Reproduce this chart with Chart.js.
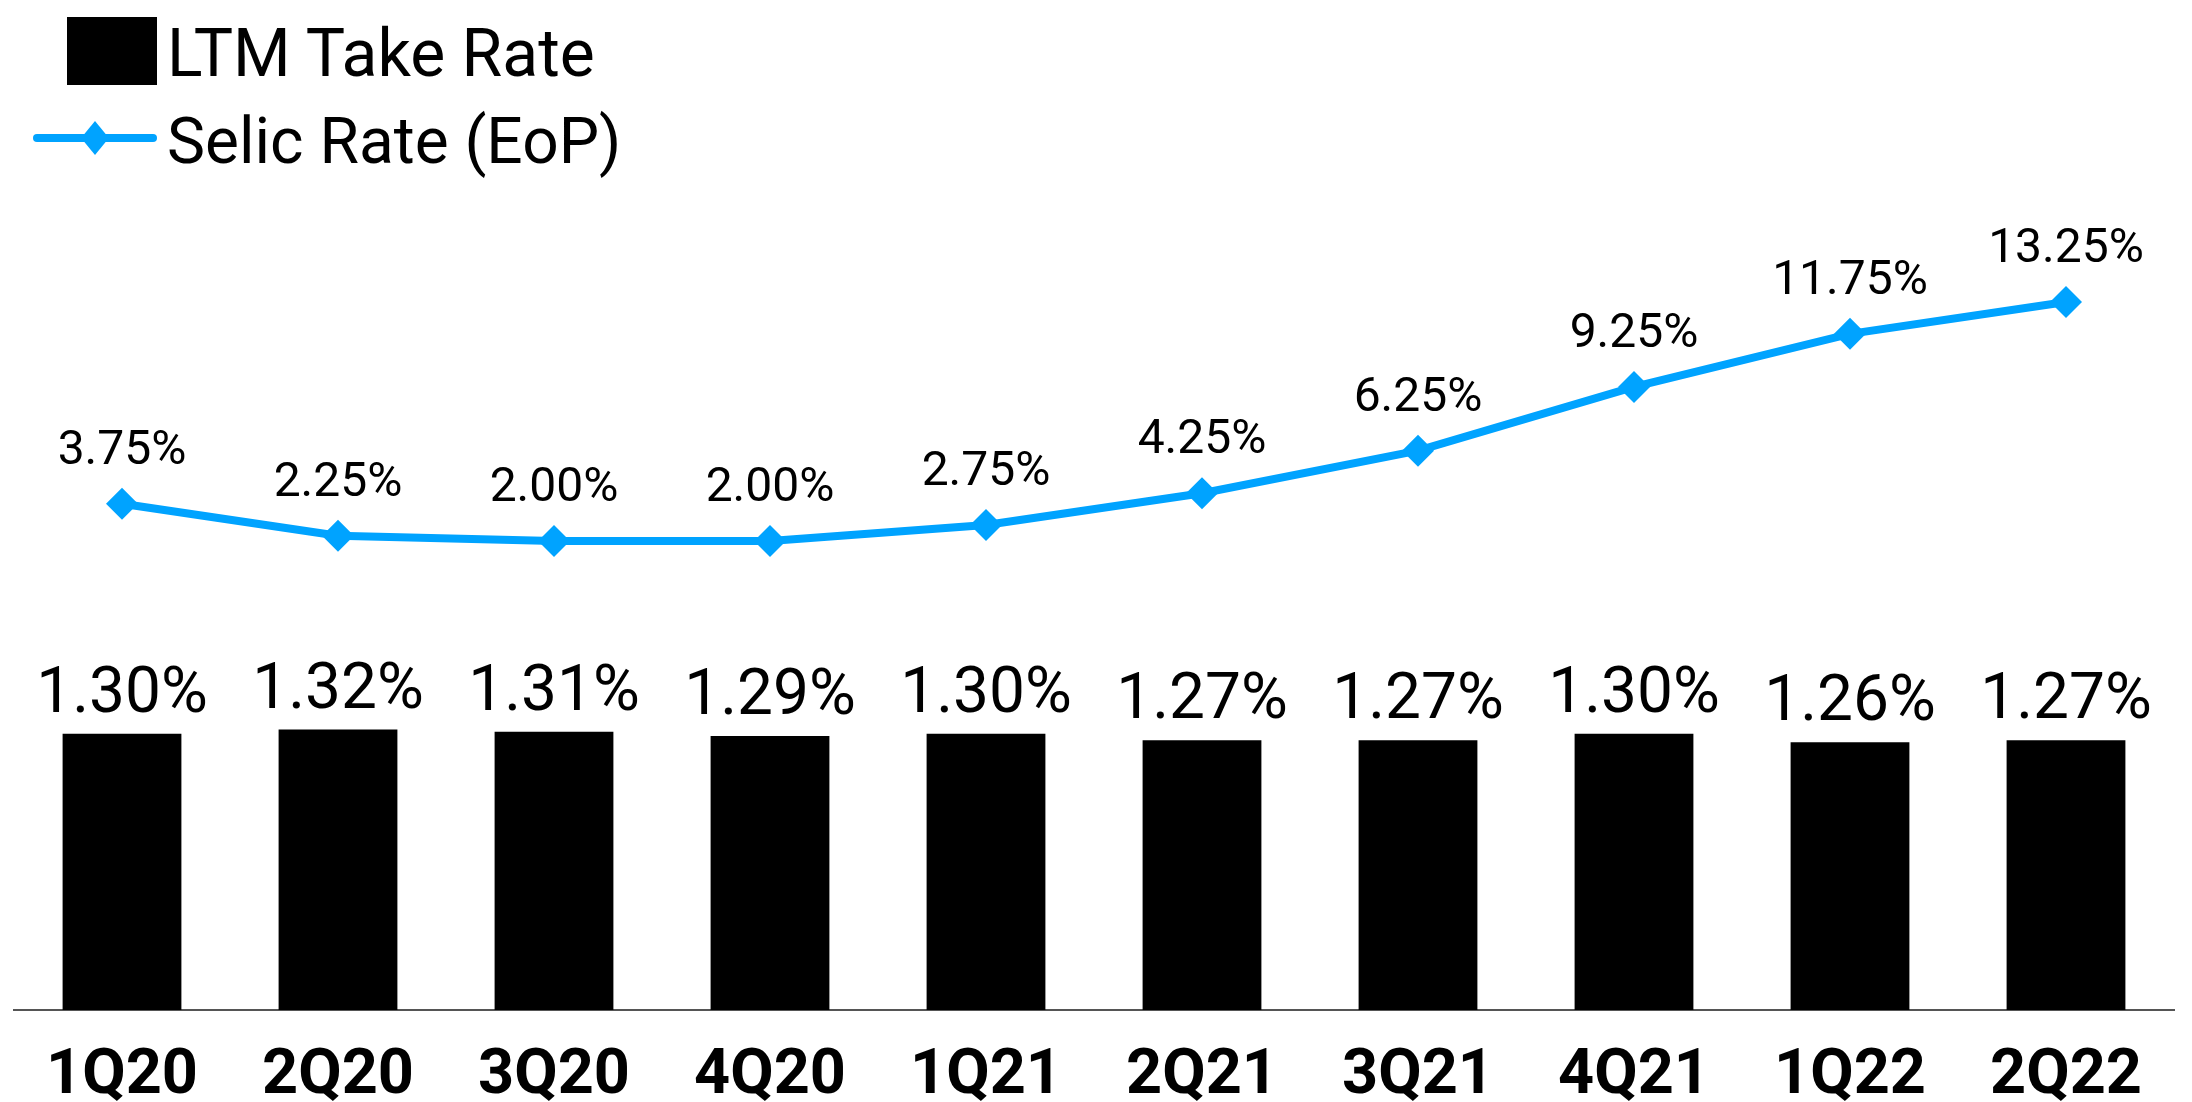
<!DOCTYPE html>
<html>
<head>
<meta charset="utf-8">
<script src="https://cdn.jsdelivr.net/npm/chart.js@4.4.0/dist/chart.umd.min.js"></script>
<style>
  body { margin: 0; background: #fff; }
  #wrap { position: relative; width: 2192px; height: 1102px; }
  #legend { position: absolute; left: 0; top: 0; font-family: Roboto, sans-serif; font-size: 66px; color: #000; }
  .swatch, .label { position: absolute; }
  .label { left: 167px; white-space: nowrap; line-height: 1; }
</style>
</head>
<body>
<div id="wrap">
  <canvas id="chart" width="2192" height="1102"></canvas>
  <div id="legend">
    <div class="swatch" style="left:67px; top:17px; width:90px; height:68px; background:#000"></div>
    <div class="label" style="top:21px">LTM Take Rate</div>
    <div class="swatch" style="left:33px; top:134px; width:124px; height:8px; border-radius:4px; background:#00A3FF"></div>
    <div class="swatch" style="left:83px; top:126px; width:24px; height:24px; background:#00A3FF; transform:scale(0.82,1) rotate(45deg)"></div>
    <div class="label" style="top:110px; font-size:64px">Selic Rate (EoP)</div>
  </div>
</div>
<script>
const quarters = ['1Q20', '2Q20', '3Q20', '4Q20', '1Q21', '2Q21', '3Q21', '4Q21', '1Q22', '2Q22'];
const takeRate = [1.30, 1.32, 1.31, 1.29, 1.30, 1.27, 1.27, 1.30, 1.26, 1.27];
const selicRate = [3.75, 2.25, 2.00, 2.00, 2.75, 4.25, 6.25, 9.25, 11.75, 13.25];

const blue = '#00A3FF';

// value labels above bars and line points
const valueLabels = {
  id: 'valueLabels',
  afterDatasetsDraw(chart) {
    const ctx = chart.ctx;
    ctx.save();
    ctx.textAlign = 'center';
    ctx.textBaseline = 'alphabetic';
    ctx.fillStyle = '#000';
    ctx.font = '64px Roboto';
    chart.getDatasetMeta(0).data.forEach((bar, i) => {
      ctx.fillText(takeRate[i].toFixed(2) + '%', bar.x, bar.y - 22);
    });
    ctx.font = '48px Roboto';
    chart.getDatasetMeta(1).data.forEach((pt, i) => {
      ctx.fillText(selicRate[i].toFixed(2) + '%', pt.x, pt.y - 40);
    });
    ctx.restore();
  }
};

function draw() {
  new Chart(document.getElementById('chart'), {
    type: 'bar',
    data: {
      labels: quarters,
      datasets: [{
        label: 'LTM Take Rate',
        data: takeRate,
        backgroundColor: '#000',
        yAxisID: 'yBar',
        barPercentage: 0.55,
        categoryPercentage: 1
      }, {
        type: 'line',
        label: 'Selic Rate (EoP)',
        data: selicRate,
        yAxisID: 'yLine',
        borderColor: blue,
        borderWidth: 8,
        tension: 0,
        pointStyle: 'rectRot',
        pointRadius: 16,
        pointBackgroundColor: blue,
        pointBorderWidth: 0
      }]
    },
    options: {
      responsive: false,
      animation: false,
      layout: { autoPadding: false, padding: { left: 14, right: 18, top: 0, bottom: 0 } },
      plugins: { legend: { display: false }, tooltip: { enabled: false } },
      scales: {
        x: {
          grid: { display: false, drawTicks: false },
          border: { display: true, color: '#555', width: 2 },
          ticks: { color: '#000', padding: 29, font: { family: 'Roboto', size: 63, weight: 'bold' } },
          // keep the axis band fixed so the plot ends at y=1010
          afterFit(scale) { scale.height = 92; }
        },
        yBar: { display: false, min: 0, max: 4.753 },
        yLine: { display: false, min: -20.07, max: 27.46 }
      }
    },
    plugins: [valueLabels]
  });
}

Promise.all([
  document.fonts.load('64px Roboto'),
  document.fonts.load('bold 63px Roboto')
]).then(draw, draw);
</script>
</body>
</html>
